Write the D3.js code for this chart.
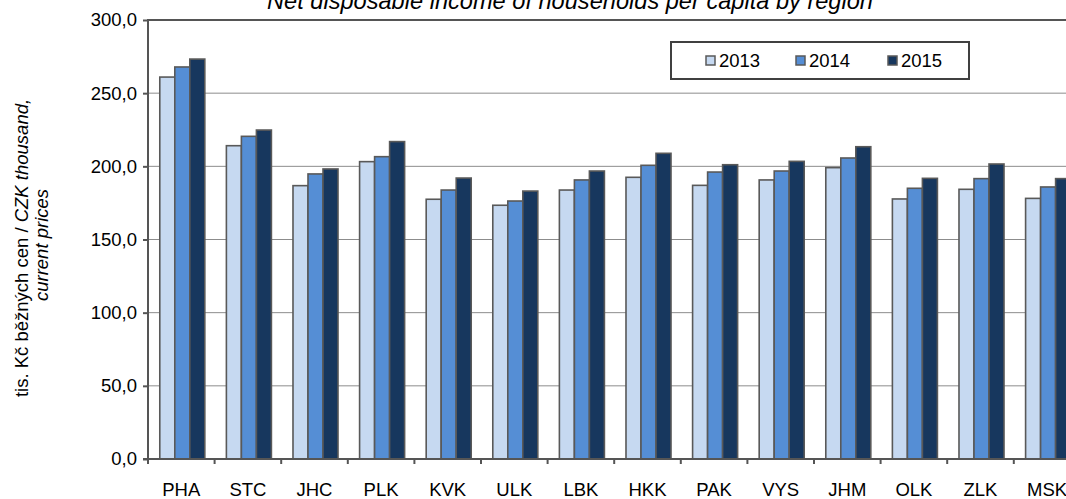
<!DOCTYPE html>
<html>
<head>
<meta charset="utf-8">
<script src="https://cdn.jsdelivr.net/npm/d3@7"></script>
<style>
  body { margin: 0; background: #fff; }
  svg { display: block; font-family: "Liberation Sans", Arial, sans-serif; }
</style>
</head>
<body>
<script>
// regions and values (tis. Kc per capita)
var regions = ["PHA", "STC", "JHC", "PLK", "KVK", "ULK", "LBK", "HKK", "PAK", "VYS", "JHM", "OLK", "ZLK", "MSK"];
var years = ["2013", "2014", "2015"];
var v2013 = [261.0, 214.1, 186.8, 203.2, 177.5, 173.4, 183.8, 192.5, 187.0, 190.7, 199.1, 177.7, 184.3, 178.1];
var v2014 = [267.9, 220.5, 194.8, 206.6, 183.8, 176.3, 190.7, 200.7, 196.1, 196.8, 205.7, 185.0, 191.6, 185.9];
var v2015 = [273.3, 224.8, 198.2, 216.9, 192.0, 183.1, 196.8, 208.9, 201.1, 203.4, 213.4, 191.8, 201.6, 191.6];
var yTicks = [0, 50, 100, 150, 200, 250, 300];
var colors = ["#c6d9f1", "#558ed5", "#17375e"];

var series = [v2013, v2014, v2015];

var W = 1066, H = 499;
var plotL = 148, plotT = 20, plotB = 459;
var step = 66.6;
var plotR = plotL + regions.length * step;

var svg = d3.select("body").append("svg")
    .attr("width", W)
    .attr("height", H);

var x0 = d3.scaleBand().domain(regions).range([plotL, plotR])
    .paddingInner(0.324).paddingOuter(0.162);
var x1 = d3.scaleBand().domain(years).range([0, x0.bandwidth()]);
var y = d3.scaleLinear().domain([0, 300]).range([plotB, plotT]);

// ====== GRID ======
svg.append("g")
    .selectAll("line")
    .data(yTicks.filter(function(d) { return d > 0 && d < 300; }))
    .enter().append("line")
        .attr("x1", plotL).attr("x2", plotR)
        .attr("y1", function(d) { return y(d); })
        .attr("y2", function(d) { return y(d); })
        .style("stroke", "#8c8c8c")
        .style("stroke-width", 1);

// plot border top
svg.append("line")
    .attr("x1", plotL).attr("x2", plotR)
    .attr("y1", y(300)).attr("y2", y(300))
    .style("stroke", "#555")
    .style("stroke-width", 2);

// ====== BARS ======
var rows = regions.map(function(r, i) {
    return years.map(function(yr, j) { return { region: r, year: yr, value: series[j][i], k: j }; });
});

svg.append("g")
    .selectAll("g")
    .data(rows)
    .enter().append("g")
        .attr("transform", function(d) { return "translate(" + (x0(d[0].region) + 1) + ",0)"; })
    .selectAll("rect")
    .data(function(d) { return d; })
    .enter().append("rect")
        .attr("x", function(d) { return x1(d.year); })
        .attr("y", function(d) { return y(d.value); })
        .attr("width", x1.bandwidth())
        .attr("height", function(d) { return y(0) - y(d.value); })
        .style("fill", function(d) { return colors[d.k]; })
        .style("stroke", "#595959")
        .style("stroke-width", 1.6);

// ====== AXES ======
var yAxis = d3.axisLeft(y).tickValues(yTicks).tickSize(5).tickPadding(6)
    .tickFormat(function(d) { return d3.format(".1f")(d).replace(".", ","); });
var gy = svg.append("g").attr("transform", "translate(" + plotL + ",0)").call(yAxis);
gy.select(".domain").remove();
gy.selectAll("line").style("stroke", "#555").style("stroke-width", 2);
gy.selectAll("text").style("font-size", "18.5px").style("fill", "#000");

svg.append("line")
    .attr("x1", plotL).attr("x2", plotL)
    .attr("y1", plotT - 1).attr("y2", plotB + 1)
    .style("stroke", "#555").style("stroke-width", 2);

var xTickPos = d3.range(regions.length + 1).map(function(i) { return plotL + i * step; });
svg.append("g").selectAll("line")
    .data(xTickPos)
    .enter().append("line")
        .attr("x1", function(d) { return d; }).attr("x2", function(d) { return d; })
        .attr("y1", plotB).attr("y2", plotB + 5)
        .style("stroke", "#555").style("stroke-width", 2);

svg.append("line")
    .attr("x1", plotL - 5).attr("x2", plotR)
    .attr("y1", plotB).attr("y2", plotB)
    .style("stroke", "#555").style("stroke-width", 2);

svg.append("g").selectAll("text")
    .data(regions)
    .enter().append("text")
        .attr("x", function(d) { return x0(d) + x0.bandwidth() / 2; })
        .attr("y", 496)
        .attr("text-anchor", "middle")
        .style("font-size", "18.5px")
        .text(function(d) { return d; });

// ====== TITLE ======
svg.append("text")
    .attr("x", 570).attr("y", 9)
    .attr("text-anchor", "middle")
    .style("font-size", "23.6px")
    .style("font-style", "italic")
    .text("Net disposable income of households per capita by region");

// ====== Y LABEL ======
var ylab = svg.append("text")
    .attr("transform", "translate(28,248) rotate(-90)")
    .attr("text-anchor", "middle")
    .style("font-size", "18.5px");
ylab.append("tspan").text("tis. Kč běžných cen / ");
ylab.append("tspan").style("font-style", "italic").text("CZK thousand,");
svg.append("text")
    .attr("transform", "translate(48,245) rotate(-90)")
    .attr("text-anchor", "middle")
    .style("font-size", "18.5px")
    .style("font-style", "italic")
    .text("current prices");

// ====== LEGEND ======
var legend = svg.append("g");
legend.append("rect")
    .attr("x", 671).attr("y", 42)
    .attr("width", 298).attr("height", 37)
    .style("fill", "#fff")
    .style("stroke", "#404040")
    .style("stroke-width", 2);

var lx = [706, 796, 888];
var items = legend.selectAll("g.item")
    .data(years)
    .enter().append("g")
        .attr("class", "item")
        .attr("transform", function(d, i) { return "translate(" + lx[i] + ",0)"; });
items.append("rect")
    .attr("x", 0).attr("y", 56)
    .attr("width", 9).attr("height", 9)
    .style("fill", function(d, i) { return colors[i]; })
    .style("stroke", "#595959")
    .style("stroke-width", 1.5);
items.append("text")
    .attr("x", 13).attr("y", 67)
    .style("font-size", "18.5px")
    .text(function(d) { return d; });
</script>
</body>
</html>
